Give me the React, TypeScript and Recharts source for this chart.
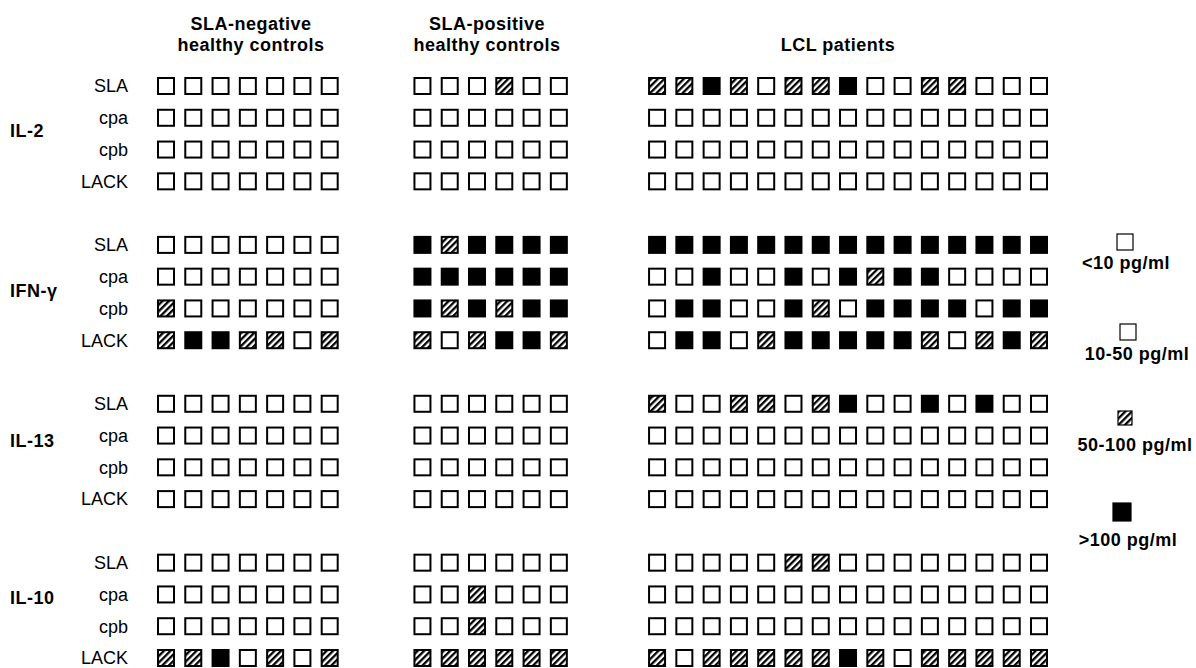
import { Scatter, ScatterChart, XAxis, YAxis } from "recharts";

const cytokines = ["IL-2", "IFN-γ", "IL-13", "IL-10"];
const antigens = ["SLA", "cpa", "cpb", "LACK"];
const groupTitles = [
  ["SLA-negative", "healthy controls"],
  ["SLA-positive", "healthy controls"],
  ["LCL patients"]
];
const legendLabels = ["<10 pg/ml", "10-50 pg/ml", "50-100 pg/ml", ">100 pg/ml"];

// level per square: 0 = <10, 1 = 10-50, 2 = 50-100, 3 = >100 pg/ml
// rows: SLA, cpa, cpb, LACK
const il2Negative = [
  [0, 0, 0, 0, 0, 0, 0],
  [0, 0, 0, 0, 0, 0, 0],
  [0, 0, 0, 0, 0, 0, 0],
  [0, 0, 0, 0, 0, 0, 0]
];
const il2Positive = [
  [0, 0, 0, 2, 0, 0],
  [0, 0, 0, 0, 0, 0],
  [0, 0, 0, 0, 0, 0],
  [0, 0, 0, 0, 0, 0]
];
const il2Lcl = [
  [2, 2, 3, 2, 0, 2, 2, 3, 0, 0, 2, 2, 0, 0, 0],
  [0, 0, 0, 0, 0, 0, 0, 0, 0, 0, 0, 0, 0, 0, 0],
  [0, 0, 0, 0, 0, 0, 0, 0, 0, 0, 0, 0, 0, 0, 0],
  [0, 0, 0, 0, 0, 0, 0, 0, 0, 0, 0, 0, 0, 0, 0]
];

const ifnNegative = [
  [0, 0, 0, 0, 0, 0, 0],
  [0, 0, 0, 0, 0, 0, 0],
  [2, 0, 0, 0, 0, 0, 0],
  [2, 3, 3, 2, 2, 0, 2]
];
const ifnPositive = [
  [3, 2, 3, 3, 3, 3],
  [3, 3, 3, 3, 3, 3],
  [3, 2, 3, 2, 3, 3],
  [2, 0, 2, 3, 3, 2]
];
const ifnLcl = [
  [3, 3, 3, 3, 3, 3, 3, 3, 3, 3, 3, 3, 3, 3, 3],
  [0, 0, 3, 0, 0, 3, 0, 3, 2, 3, 3, 0, 0, 0, 0],
  [0, 3, 3, 0, 0, 3, 2, 0, 3, 3, 3, 3, 0, 3, 3],
  [0, 3, 3, 0, 2, 3, 3, 3, 3, 3, 2, 0, 2, 3, 2]
];

const il13Negative = [
  [0, 0, 0, 0, 0, 0, 0],
  [0, 0, 0, 0, 0, 0, 0],
  [0, 0, 0, 0, 0, 0, 0],
  [0, 0, 0, 0, 0, 0, 0]
];
const il13Positive = [
  [0, 0, 0, 0, 0, 0],
  [0, 0, 0, 0, 0, 0],
  [0, 0, 0, 0, 0, 0],
  [0, 0, 0, 0, 0, 0]
];
const il13Lcl = [
  [2, 0, 0, 2, 2, 0, 2, 3, 0, 0, 3, 0, 3, 0, 0],
  [0, 0, 0, 0, 0, 0, 0, 0, 0, 0, 0, 0, 0, 0, 0],
  [0, 0, 0, 0, 0, 0, 0, 0, 0, 0, 0, 0, 0, 0, 0],
  [0, 0, 0, 0, 0, 0, 0, 0, 0, 0, 0, 0, 0, 0, 0]
];

const il10Negative = [
  [0, 0, 0, 0, 0, 0, 0],
  [0, 0, 0, 0, 0, 0, 0],
  [0, 0, 0, 0, 0, 0, 0],
  [2, 2, 3, 0, 2, 0, 2]
];
const il10Positive = [
  [0, 0, 0, 0, 0, 0],
  [0, 0, 2, 0, 0, 0],
  [0, 0, 2, 0, 0, 0],
  [2, 2, 2, 2, 2, 2]
];
const il10Lcl = [
  [0, 0, 0, 0, 0, 2, 2, 0, 0, 0, 0, 0, 0, 0, 0],
  [0, 0, 0, 0, 0, 0, 0, 0, 0, 0, 0, 0, 0, 0, 0],
  [0, 0, 0, 0, 0, 0, 0, 0, 0, 0, 0, 0, 0, 0, 0],
  [2, 0, 2, 2, 2, 2, 2, 3, 2, 0, 2, 2, 2, 2, 2]
];

const blocks = [
  [il2Negative, il2Positive, il2Lcl],
  [ifnNegative, ifnPositive, ifnLcl],
  [il13Negative, il13Positive, il13Lcl],
  [il10Negative, il10Positive, il10Lcl]
];

// layout: column offset of each group, rows per cytokine block (4 + gap)
const GROUP_START = [0, 9.4, 18];
const BLOCK = 5;

const points = blocks.flatMap((groups, b) =>
  groups.flatMap((rows, g) =>
    rows.flatMap((row, r) =>
      row.map((level, c) => ({ x: GROUP_START[g] + c, y: b * BLOCK + r, level }))
    )
  )
);

const rowTicks = cytokines.flatMap((_, b) => antigens.map((_, r) => b * BLOCK + r));

const FONT = '"Liberation Sans", Arial, Helvetica, sans-serif';

function fillFor(level: number) {
  if (level === 3) return "#000";
  if (level === 2) return "url(#hatch)";
  return "#fff";
}

function SquareMark(props: any) {
  const { cx, cy, payload } = props;
  if (cx == null || cy == null) return null;
  return (
    <rect
      x={cx - 8}
      y={cy - 8}
      width={16}
      height={16}
      fill={fillFor(payload.level)}
      stroke="#000"
      strokeWidth={2}
    />
  );
}

function AntigenTick(props: any) {
  const { x, y, payload } = props;
  return (
    <text
      x={x - 38}
      y={y}
      dy="0.35em"
      textAnchor="end"
      fontSize={18}
      fill="#000"
      fontFamily={FONT}
    >
      {antigens[payload.value % BLOCK]}
    </text>
  );
}

// overlay text positions
const titleX = [251, 487, 838];
const cytokineY = [131, 291, 441, 598];
const legendSquares = [
  { x: 1125, y: 242, s: 16, level: 0 },
  { x: 1128, y: 332, s: 16, level: 1 },
  { x: 1125, y: 418, s: 14, level: 2 },
  { x: 1122, y: 512, s: 18, level: 3 }
];
const legendText = [
  { x: 1126, y: 263 },
  { x: 1137, y: 354 },
  { x: 1135, y: 445 },
  { x: 1128, y: 540 }
];

export default function App() {
  return (
    <div
      style={{
        position: "absolute",
        left: 0,
        top: 0,
        width: 1196,
        height: 668,
        background: "#fff",
        fontFamily: FONT
      }}
    >
      <ScatterChart width={1196} height={668} margin={{ top: 86, right: 157, bottom: 10, left: 126 }}>
        <XAxis type="number" dataKey="x" domain={[0, 32]} hide />
        <YAxis
          type="number"
          dataKey="y"
          domain={[0, 18]}
          reversed
          width={40}
          ticks={rowTicks}
          interval={0}
          axisLine={false}
          tickLine={false}
          tickSize={0}
          tickMargin={0}
          tick={<AntigenTick />}
        />
        <Scatter data={points} shape={<SquareMark />} isAnimationActive={false} />
      </ScatterChart>

      <svg
        width={1196}
        height={668}
        style={{ position: "absolute", left: 0, top: 0, pointerEvents: "none" }}
      >
        <defs>
          <pattern id="hatch" patternUnits="userSpaceOnUse" width="4.6" height="4.6" patternTransform="rotate(45)">
            <rect width="4.6" height="4.6" fill="#fff" />
            <rect width="2.3" height="4.6" fill="#000" />
          </pattern>
        </defs>

        {groupTitles.map((lines, g) => (
          <text
            key={g}
            x={titleX[g]}
            textAnchor="middle"
            fontSize={18}
            fontWeight="bold"
            letterSpacing={0.5}
            fill="#000"
          >
            {lines.map((line, i) => (
              <tspan key={i} x={titleX[g]} y={lines.length === 1 ? 51 : 30 + i * 21}>
                {line}
              </tspan>
            ))}
          </text>
        ))}

        {cytokines.map((name, b) => (
          <text
            key={name}
            x={10}
            y={cytokineY[b]}
            dy="0.35em"
            fontSize={18}
            fontWeight="bold"
            letterSpacing={0.5}
            fill="#000"
          >
            {name}
          </text>
        ))}

        {legendSquares.map((sq, i) => (
          <rect
            key={i}
            x={sq.x - sq.s / 2}
            y={sq.y - sq.s / 2}
            width={sq.s}
            height={sq.s}
            fill={fillFor(sq.level)}
            stroke="#000"
            strokeWidth={1.2}
          />
        ))}
        {legendLabels.map((label, i) => (
          <text
            key={label}
            x={legendText[i].x}
            y={legendText[i].y}
            dy="0.35em"
            textAnchor="middle"
            fontSize={18}
            fontWeight="bold"
            letterSpacing={0.5}
            fill="#000"
          >
            {label}
          </text>
        ))}
      </svg>
    </div>
  );
}
